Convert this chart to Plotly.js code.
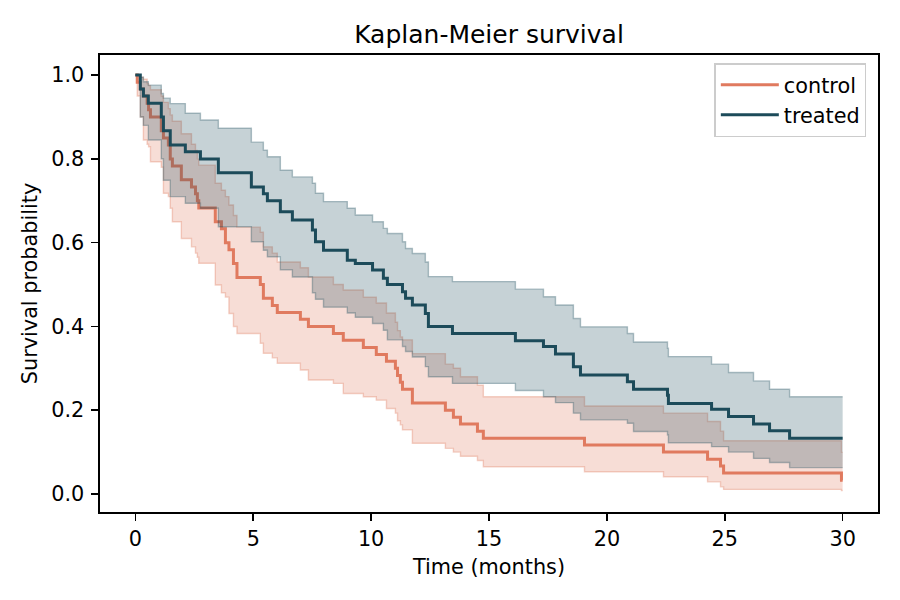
<!DOCTYPE html>
<html>
<head>
<meta charset="utf-8">
<script src="https://cdn.plot.ly/plotly-3.0.1.min.js"></script>
<style>html,body{margin:0;padding:0;background:#fff;}#chart{width:900px;height:600px;}</style>
</head>
<body>
<div id="chart"></div>
<script>
// ---- data ----
const ctrlTime  = [0, 0.08, 0.21, 0.34, 0.50, 0.56, 0.64, 1.10, 1.19, 1.40, 1.48, 1.57, 1.95, 2.38, 2.55, 2.63, 2.69, 3.39, 3.65, 3.82, 3.97, 4.16, 4.31, 5.30, 5.43, 5.81, 6.02, 7.00, 7.34, 8.40, 8.82, 9.67, 10.22, 10.65, 11.03, 11.12, 11.24, 11.33, 11.75, 13.15, 13.49, 13.79, 14.51, 14.76, 19.05, 22.40, 24.27, 24.82, 24.95, 29.95, 30.0];
const ctrlSurv  = [1.0, 0.983, 0.967, 0.95, 0.933, 0.917, 0.90, 0.867, 0.85, 0.833, 0.80, 0.783, 0.75, 0.733, 0.717, 0.70, 0.683, 0.65, 0.633, 0.60, 0.583, 0.55, 0.517, 0.50, 0.467, 0.45, 0.433, 0.417, 0.40, 0.383, 0.367, 0.35, 0.333, 0.317, 0.30, 0.283, 0.267, 0.25, 0.217, 0.20, 0.183, 0.167, 0.15, 0.133, 0.117, 0.10, 0.083, 0.067, 0.05, 0.033, 0.033];
const ctrlLower = [1.0, 0.95, 0.90, 0.845, 0.835, 0.829, 0.793, 0.78, 0.718, 0.71, 0.682, 0.65, 0.61, 0.59, 0.575, 0.565, 0.551, 0.499, 0.48, 0.47, 0.431, 0.40, 0.383, 0.36, 0.336, 0.325, 0.312, 0.296, 0.272, 0.264, 0.24, 0.232, 0.224, 0.204, 0.193, 0.175, 0.165, 0.153, 0.121, 0.109, 0.10, 0.09, 0.08, 0.065, 0.053, 0.041, 0.029, 0.017, 0.011, 0.008, 0.008];
const ctrlUpper = [1.0, 1.0, 0.995, 0.99, 0.98, 0.975, 0.965, 0.95, 0.935, 0.92, 0.905, 0.89, 0.86, 0.835, 0.82, 0.80, 0.785, 0.742, 0.725, 0.71, 0.69, 0.665, 0.637, 0.625, 0.59, 0.575, 0.554, 0.54, 0.518, 0.50, 0.487, 0.47, 0.456, 0.432, 0.41, 0.39, 0.375, 0.368, 0.335, 0.31, 0.30, 0.28, 0.26, 0.232, 0.21, 0.193, 0.173, 0.15, 0.127, 0.10, 0.10];

const trtTime  = [0, 0.21, 0.34, 0.55, 1.10, 1.19, 1.48, 2.12, 2.76, 3.52, 4.92, 5.43, 5.60, 6.15, 6.66, 7.51, 7.64, 7.98, 8.99, 9.33, 10.06, 10.52, 10.69, 11.33, 11.46, 11.75, 12.30, 12.43, 13.45, 16.12, 17.31, 17.82, 18.58, 18.88, 20.87, 21.13, 22.57, 22.61, 24.44, 25.16, 26.22, 26.90, 27.75, 30.0];
const trtSurv  = [1.0, 0.967, 0.95, 0.933, 0.90, 0.867, 0.833, 0.817, 0.80, 0.767, 0.733, 0.717, 0.70, 0.674, 0.654, 0.63, 0.602, 0.582, 0.558, 0.55, 0.535, 0.515, 0.50, 0.483, 0.467, 0.451, 0.431, 0.40, 0.383, 0.366, 0.352, 0.334, 0.304, 0.284, 0.268, 0.25, 0.236, 0.216, 0.202, 0.185, 0.167, 0.151, 0.133, 0.133];
const trtLower = [1.0, 0.90, 0.88, 0.845, 0.80, 0.749, 0.71, 0.694, 0.682, 0.638, 0.602, 0.582, 0.566, 0.535, 0.518, 0.48, 0.465, 0.446, 0.432, 0.422, 0.407, 0.391, 0.368, 0.352, 0.34, 0.327, 0.304, 0.28, 0.264, 0.247, 0.232, 0.218, 0.193, 0.177, 0.169, 0.149, 0.141, 0.122, 0.113, 0.10, 0.085, 0.075, 0.063, 0.063];
const trtUpper = [1.0, 0.995, 0.984, 0.976, 0.956, 0.945, 0.932, 0.909, 0.893, 0.873, 0.84, 0.821, 0.805, 0.773, 0.757, 0.742, 0.718, 0.698, 0.682, 0.666, 0.65, 0.634, 0.622, 0.602, 0.586, 0.574, 0.554, 0.519, 0.507, 0.489, 0.471, 0.451, 0.419, 0.399, 0.383, 0.363, 0.348, 0.328, 0.31, 0.29, 0.27, 0.25, 0.232, 0.232];

const xTicks = [0, 5, 10, 15, 20, 25, 30];
const yTicks = [0.0, 0.2, 0.4, 0.6, 0.8, 1.0];
const yTickText = ['0.0', '0.2', '0.4', '0.6', '0.8', '1.0'];

// ---- styles ----
const ctrlColor = '#E07A5F';
const trtColor = '#1C4B5A';
const ctrlFill = 'rgba(224,122,95,0.26)';
const ctrlEdge = 'rgba(224,122,95,0.35)';
const trtFill = 'rgba(28,75,90,0.25)';
const trtEdge = 'rgba(28,75,90,0.33)';

function band(x, lo, hi, fill, edge) {
  return [
    {x: x, y: lo, type: 'scatter', mode: 'lines', line: {shape: 'hv', color: edge, width: 1.4}, showlegend: false, hoverinfo: 'skip'},
    {x: x, y: hi, type: 'scatter', mode: 'lines', line: {shape: 'hv', color: edge, width: 1.4}, fill: 'tonexty', fillcolor: fill, showlegend: false, hoverinfo: 'skip'}
  ];
}

const traces = [
  ...band(ctrlTime, ctrlLower, ctrlUpper, ctrlFill, ctrlEdge),
  {x: ctrlTime, y: ctrlSurv, type: 'scatter', mode: 'lines', name: 'control', line: {shape: 'hv', color: ctrlColor, width: 3}},
  ...band(trtTime, trtLower, trtUpper, trtFill, trtEdge),
  {x: trtTime, y: trtSurv, type: 'scatter', mode: 'lines', name: 'treated', line: {shape: 'hv', color: trtColor, width: 3}}
];

const font = 'DejaVu Sans, sans-serif';
const layout = {
  width: 900, height: 600,
  margin: {l: 100, r: 22, t: 55, b: 88},
  paper_bgcolor: '#ffffff', plot_bgcolor: '#ffffff',
  font: {family: font, size: 20.8, color: '#000000'},
  title: {text: 'Kaplan-Meier survival', font: {family: font, size: 25, color: '#000000'},
          x: 0.5, xref: 'paper', xanchor: 'center', y: 1 - 34 / 600, yref: 'container', yanchor: 'middle'},
  xaxis: {
    range: [-1.5, 31.5], tickvals: xTicks, ticktext: xTicks.map(String),
    ticks: 'outside', ticklen: 7, tickwidth: 1.6, tickcolor: '#000000',
    showline: true, linecolor: '#000000', linewidth: 1.6, mirror: true,
    showgrid: false, zeroline: false, tickfont: {family: font, size: 20.8},
    title: {text: 'Time (months)', font: {family: font, size: 20.8}, standoff: 10}
  },
  yaxis: {
    range: [-0.043, 1.048], tickvals: yTicks, ticktext: yTickText,
    ticks: 'outside', ticklen: 7, tickwidth: 1.6, tickcolor: '#000000',
    showline: true, linecolor: '#000000', linewidth: 1.6, mirror: true,
    showgrid: false, zeroline: false, tickfont: {family: font, size: 20.8},
    ticklabelstandoff: 3,
    title: {text: 'Survival probability', font: {family: font, size: 20.8}, standoff: 8}
  },
  legend: {
    x: 0.985, xanchor: 'right', y: 0.982, yanchor: 'top', traceorder: 'normal',
    itemwidth: 58,
    bgcolor: 'rgba(255,255,255,0.8)', bordercolor: '#cccccc', borderwidth: 1.5,
    font: {family: font, size: 20.8, color: '#000000'}
  },
  showlegend: true
};

Plotly.newPlot('chart', traces, layout, {displayModeBar: false, staticPlot: true});
</script>
</body>
</html>
